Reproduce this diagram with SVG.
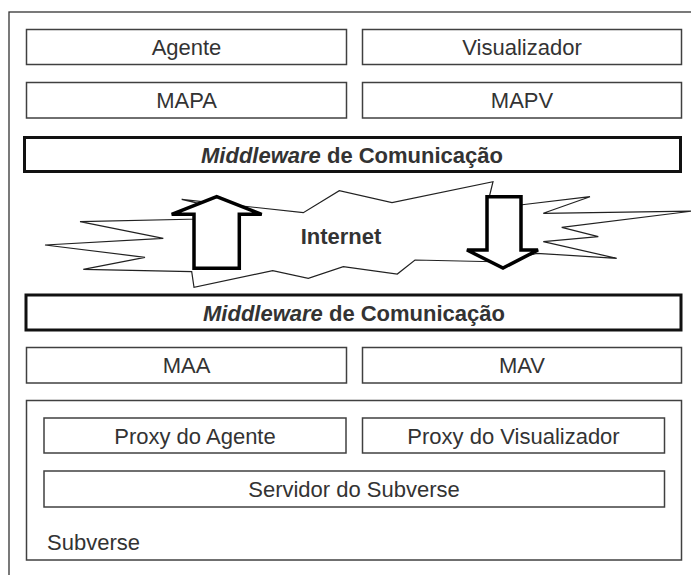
<svg xmlns="http://www.w3.org/2000/svg" width="691" height="575" viewBox="0 0 691 575">
<style>
.box{fill:#fff;stroke:#404040;stroke-width:1.5}
.mw{fill:#fff;stroke:#111;stroke-width:3}
.t{font-family:"Liberation Sans",Arial,sans-serif;font-size:22px;fill:#333;text-anchor:middle}
.b{font-weight:bold}
.arrow{fill:#fff;stroke:#000;stroke-width:3.5;stroke-linejoin:miter}
.cloud{fill:#fff;stroke:#222;stroke-width:1.2;stroke-linejoin:miter}
</style>
<rect x="0" y="0" width="691" height="575" fill="#fff"/>
<rect id="frame" x="9" y="12" width="700" height="600" fill="none" stroke="#333" stroke-width="1.3"/>
<g id="agente"><rect class="box" x="26.5" y="29.5" width="320" height="35"/><text class="t" x="186.5" y="55">Agente</text></g>
<g id="visualizador"><rect class="box" x="362.5" y="29.5" width="319" height="35"/><text class="t" x="522" y="55">Visualizador</text></g>
<g id="mapa"><rect class="box" x="26.5" y="82.5" width="320" height="35.5"/><text class="t" x="186.5" y="108">MAPA</text></g>
<g id="mapv"><rect class="box" x="362.5" y="82.5" width="319" height="35.5"/><text class="t" x="522" y="108">MAPV</text></g>
<g id="middleware1"><rect class="mw" x="24.5" y="137.5" width="656" height="34"/><text class="t b" x="352" y="162.5"><tspan font-style="italic">Middleware</tspan> de Comunicação</text></g>
<g id="internet">
<polygon class="cloud" points="181.7,199.3 303.3,212.7 339.3,190.7 392,202.7 493,181.7 489,198 505,205 520,205 590,196.7 543.3,213.3 693,211 561.7,227.3 598.3,236.7 543.3,241.7 616.7,258.3 536.7,253.3 505,262 415,260 397.3,274 343.3,266.7 308.3,278.3 272.7,270.7 194,287.3 191.7,271.7 83.3,269.3 145,257.3 45,245 163.3,238.3 80,221.7 200,219 205,205"/>
<text class="t b" x="341" y="244">Internet</text>
</g>
<g id="connectors">
<polygon id="up" class="arrow" points="216.7,196.7 261.7,214.3 239.3,214.3 239.3,268.3 194,268.3 194,214.3 171.7,214.3"/>
<polygon id="down" class="arrow" points="487,196.7 521,196.7 521,250 538,250 503,268 467,250 487,250"/>
</g>
<g id="middleware2"><rect class="mw" x="26" y="295" width="655" height="35"/><text class="t b" x="354" y="320.5"><tspan font-style="italic">Middleware</tspan> de Comunicação</text></g>
<g id="maa"><rect class="box" x="26.5" y="347.5" width="320" height="35.5"/><text class="t" x="186.5" y="373">MAA</text></g>
<g id="mav"><rect class="box" x="362.5" y="347.5" width="319" height="35.5"/><text class="t" x="522" y="373">MAV</text></g>
<g id="subverse"><rect class="box" x="26.5" y="400.5" width="655" height="159.5"/><text class="t" x="47" y="550" style="text-anchor:start">Subverse</text></g>
<g id="proxyAgente"><rect class="box" x="44" y="418" width="302" height="35"/><text class="t" x="195" y="443.5">Proxy do Agente</text></g>
<g id="proxyVisualizador"><rect class="box" x="362.5" y="418" width="302" height="35"/><text class="t" x="513.5" y="443.5">Proxy do Visualizador</text></g>
<g id="servidor"><rect class="box" x="44" y="471" width="620.5" height="36"/><text class="t" x="354" y="496.5">Servidor do Subverse</text></g>
</svg>
